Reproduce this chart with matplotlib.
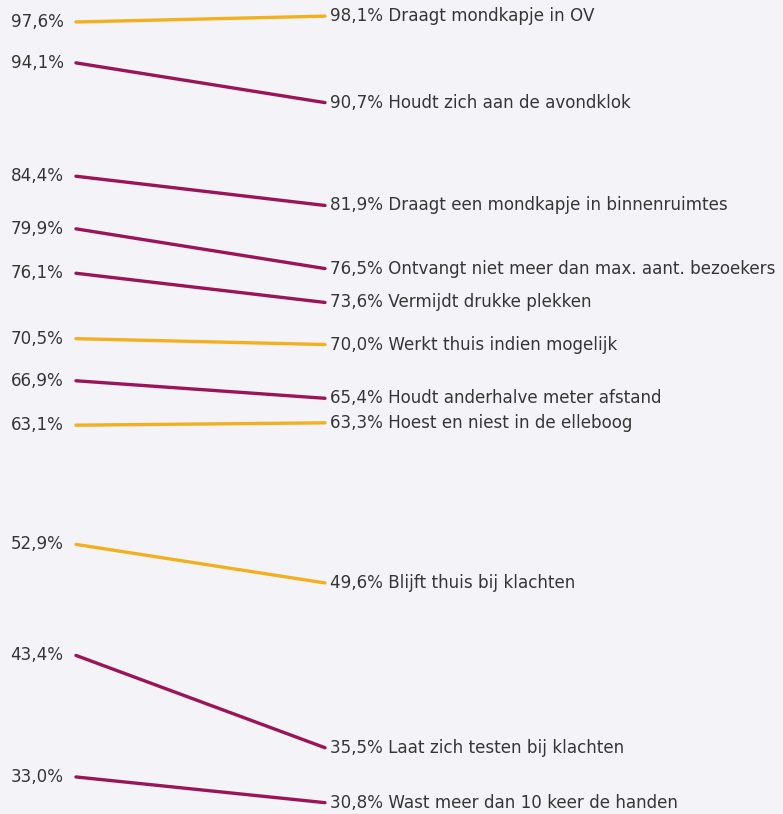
import matplotlib
matplotlib.use('Agg')
import matplotlib.pyplot as plt

plt.rcParams['font.family'] = ['DejaVu Sans']

# data
labels = ['Draagt mondkapje in OV', 'Houdt zich aan de avondklok',
          'Draagt een mondkapje in binnenruimtes',
          'Ontvangt niet meer dan max. aant. bezoekers',
          'Vermijdt drukke plekken', 'Werkt thuis indien mogelijk',
          'Houdt anderhalve meter afstand', 'Hoest en niest in de elleboog',
          'Blijft thuis bij klachten', 'Laat zich testen bij klachten',
          'Wast meer dan 10 keer de handen']
before = [97.6, 94.1, 84.4, 79.9, 76.1, 70.5, 66.9, 63.1, 52.9, 43.4, 33.0]
after = [98.1, 90.7, 81.9, 76.5, 73.6, 70.0, 65.4, 63.3, 49.6, 35.5, 30.8]
groups = ['y', 'p', 'p', 'p', 'p', 'y', 'p', 'y', 'y', 'p', 'p']

colors = {'y': '#f2b01e', 'p': '#9b1458'}
bg = '#f4f3f7'

fig = plt.figure(figsize=(7.83, 8.14), dpi=100, facecolor=bg)
ax = fig.add_axes([0, 0, 1, 1], facecolor=bg)

def fmt(v):
    return ('%.1f%%' % v).replace('.', ',')

for lab, b, a, g in zip(labels, before, after, groups):
    ax.plot([0, 1], [b, a], color=colors[g], lw=2.4, solid_capstyle='round')
    ax.text(-0.05, b, fmt(b), ha='right', va='center', fontsize=12.1, color='#363636')
    ax.text(1.02, a, fmt(a) + ' ' + lab, ha='left', va='center', fontsize=12.1, color='#363636')

ax.set_xlim(-0.305, 2.839)
ax.set_ylim(29.83, 99.48)
ax.axis('off')

fig.savefig('out.png', dpi=100, facecolor=bg)
